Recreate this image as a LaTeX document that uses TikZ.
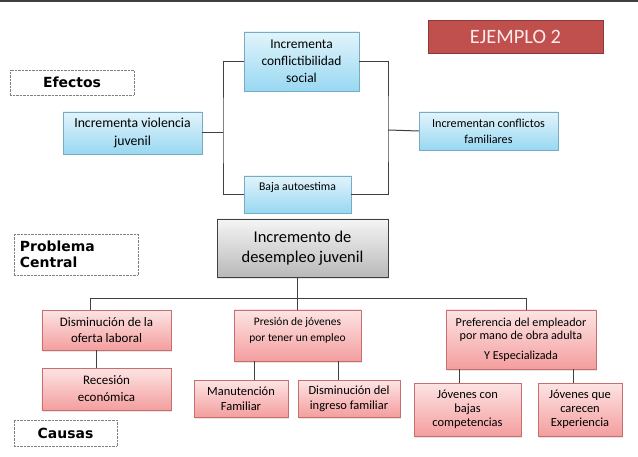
\documentclass[tikz,border=0pt]{standalone}
\usepackage{fontspec}
\setmainfont{Carlito}
\newfontfamily\labelfont{DejaVu Sans}
\usetikzlibrary{shadows}
\definecolor{efectoblue}{RGB}{152,216,242}
\definecolor{efectotop}{RGB}{226,244,251}
\definecolor{efectoline}{RGB}{120,172,196}
\definecolor{causapink}{RGB}{244,158,158}
\definecolor{causatop}{RGB}{253,228,228}
\definecolor{causaline}{RGB}{200,110,110}
\definecolor{ejemplored}{RGB}{192,80,77}
\definecolor{ejemploline}{RGB}{140,56,54}

\tikzset{
  efecto/.style={draw=efectoline, top color=efectotop, bottom color=efectoblue, align=center,
    inner sep=2bp, drop shadow={opacity=0.2, shadow xshift=1bp, shadow yshift=-1.5bp}},
  causa/.style={draw=causaline, top color=causatop, bottom color=causapink, align=center,
    inner sep=2bp, drop shadow={opacity=0.2, shadow xshift=1bp, shadow yshift=-1.5bp}},
  etiqueta/.style={draw=gray, densely dotted, fill=white, font=\labelfont\bfseries\fontsize{14}{16}\selectfont},
  enlace/.style={draw=black!75, line width=1bp}
}

\begin{document}
\begin{tikzpicture}[x=1bp, y=-1bp]
    \useasboundingbox (0,0) rectangle (638,457);
    \fill[white] (0,0) rectangle (638,457);
    \draw[black!75, line width=2bp] (0,1) -- (638,1);

    % titulo y etiquetas
    \node[draw=ejemploline, fill=ejemplored, text=white!92!red, minimum width=175bp, minimum height=33bp,
      font=\fontsize{20.5}{22}\selectfont] (ejemplo) at (515.5,36.5) {EJEMPLO 2};
    \node[etiqueta, minimum width=124bp, minimum height=25bp] (efectos) at (72,82.5) {Efectos};
    \node[etiqueta, minimum width=124bp, minimum height=41bp, align=left, text width=112bp] (problema) at (76,254.5) {Problema\\Central};
    \node[etiqueta, minimum width=103bp, minimum height=26bp] (causas) at (65.5,433) {Causas};

    % efectos
    \node[efecto, minimum width=115bp, minimum height=59bp, font=\fontsize{13.5}{17}\selectfont] (conflicto) at (301.5,61.5) {Incrementa\\conflictibilidad\\social};
    \node[efecto, minimum width=139bp, minimum height=42bp, font=\fontsize{13.8}{18}\selectfont] (violencia) at (132.5,133) {Incrementa violencia\\juvenil};
    \node[efecto, minimum width=139bp, minimum height=38bp, font=\fontsize{12.2}{16}\selectfont] (familiares) at (488.5,131) {Incrementan conflictos\\familiares};
    \node[efecto, minimum width=107bp, minimum height=37bp, font=\fontsize{11.8}{14}\selectfont,
      text height=11bp, text depth=18bp] (baja) at (297.5,194.5) {Baja autoestima};

    % problema central
    \node[draw=black!75, top color=gray!8, bottom color=gray!55, align=center, minimum width=171bp, minimum height=58bp,
      font=\fontsize{16.5}{20}\selectfont, drop shadow={opacity=0.2, shadow xshift=1bp, shadow yshift=-1.5bp}] (central) at (302.5,248) {Incremento de\\desempleo juvenil};

    % causas
    \node[causa, minimum width=129bp, minimum height=40bp, font=\fontsize{13}{16}\selectfont] (oferta) at (106.5,330) {Disminución de la\\oferta laboral};
    \node[causa, minimum width=127bp, minimum height=51bp, font=\fontsize{11.5}{16}\selectfont,
      text height=22bp, text depth=11bp] (presion) at (297.5,335.5) {Presión de jóvenes\\por tener un empleo};
    \node[causa, minimum width=150bp, minimum height=59bp, font=\fontsize{12.2}{13}\selectfont] (preferencia) at (521,339.5) {Preferencia del empleador\\por mano de obra adulta\\[7bp]Y Especializada};
    \node[causa, minimum width=129bp, minimum height=42bp, font=\fontsize{13}{17}\selectfont] (recesion) at (106.5,389) {Recesión\\económica};
    \node[causa, minimum width=94bp, minimum height=37bp, font=\fontsize{12.5}{15}\selectfont] (manutencion) at (241,398.5) {Manutención\\Familiar};
    \node[causa, minimum width=102bp, minimum height=37bp, font=\fontsize{12.5}{15}\selectfont] (ingreso) at (349,398.5) {Disminución del\\ingreso familiar};
    \node[causa, minimum width=107bp, minimum height=53bp, font=\fontsize{12.5}{14}\selectfont] (bajas) at (467.5,409.5) {Jóvenes con\\bajas\\competencias};
    \node[causa, minimum width=84bp, minimum height=53bp, font=\fontsize{12.5}{14}\selectfont] (carecen) at (580,409.5) {Jóvenes que\\carecen\\Experiencia};

    % conectores superiores
    \coordinate (izq) at (223,133);
    \coordinate (der) at (388,130);
    \draw[enlace] (violencia.east) -- (izq);
    \draw[enlace] (conflicto.west) -| (izq) |- (baja.west);
    \draw[enlace] (conflicto.east) -| (der) |- (baja.east);
    \draw[enlace] (der) -- (familiares.west);

    % conectores inferiores
    \coordinate (busizq) at (90,298);
    \coordinate (busder) at (526,298);
    \draw[enlace] (central.south -| presion.north) -- (presion.north);
    \draw[enlace] (oferta.north -| busizq) -- (busizq) -- (busder) -- (preferencia.north -| busder);
    \draw[enlace] ([xshift=-10.5bp]oferta.south) -- ([xshift=-10.5bp]recesion.north);
    \draw[enlace] ([xshift=13bp]manutencion.north |- presion.south) -- ([xshift=13bp]manutencion.north);
    \draw[enlace] ([xshift=-11bp]ingreso.north |- presion.south) -- ([xshift=-11bp]ingreso.north);
    \draw[enlace] ([xshift=-8.5bp]bajas.north |- preferencia.south) -- ([xshift=-8.5bp]bajas.north);
    \draw[enlace] ([xshift=-7bp]carecen.north |- preferencia.south) -- ([xshift=-7bp]carecen.north);
\end{tikzpicture}
\end{document}
